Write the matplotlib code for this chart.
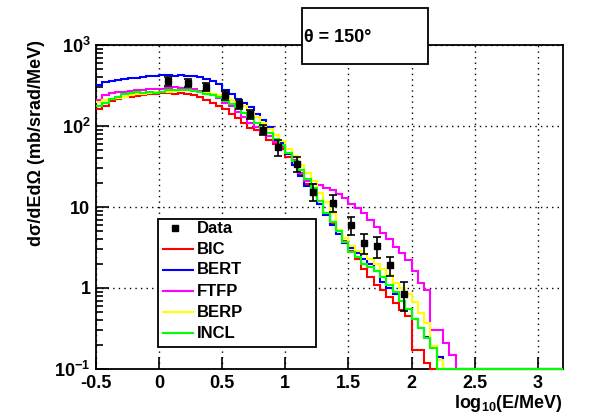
import numpy as np
import matplotlib
matplotlib.use('Agg')
import matplotlib.pyplot as plt
from matplotlib.patches import Rectangle
from matplotlib.lines import Line2D
from matplotlib.ticker import FixedLocator, FuncFormatter, LogLocator, NullFormatter

plt.rcParams['font.family'] = ['Liberation Sans', 'DejaVu Sans']
plt.rcParams['font.weight'] = 'bold'
plt.rcParams['mathtext.fontset'] = 'custom'
plt.rcParams['mathtext.rm'] = 'Liberation Sans:bold'
plt.rcParams['mathtext.bf'] = 'Liberation Sans:bold'
plt.rcParams['mathtext.it'] = 'Liberation Sans:bold'
plt.rcParams['axes.unicode_minus'] = False

# histogram binning in log10(E/MeV)
x_lo = -0.5
x_hi = 3.2
bin_w = 0.05

# model histograms, contents of consecutive bins starting at x_lo
bic = [160, 175, 205, 215, 225, 230, 235, 240, 245, 250,
       255, 255, 250, 255, 245, 240, 225, 210, 195, 175,
       160, 140, 125, 110, 95, 90, 80, 68, 60, 52,
       42, 33, 25, 19, 15, 11, 8.5, 6.3, 5.0, 3.8,
       2.9, 2.3, 1.7, 1.35, 1.1, 0.95, 0.78, 0.65, 0.53, 0.45,
       0.17, 0.17, 0.12]
bert = [320, 345, 360, 365, 380, 390, 395, 405, 410, 420,
        425, 430, 420, 430, 415, 420, 400, 380, 360, 330,
        280, 245, 215, 190, 170, 140, 120, 98, 78, 62,
        45, 33, 24, 18, 14, 11, 8.0, 6.0, 4.6, 3.6,
        3.1, 2.7, 2.3, 2.0, 1.6, 1.2, 1.0, 0.85, 0.70, 0.55,
        0.42, 0.32, 0.25, 0.19, 0.14]
ftfp = [210, 240, 255, 260, 265, 270, 275, 280, 285, 290,
        290, 295, 300, 295, 290, 285, 270, 255, 240, 220,
        195, 175, 150, 130, 110, 98, 85, 75, 64, 55,
        47, 38, 26, 21, 19.5, 18.5, 17, 16, 14.5, 13,
        11, 9.6, 8.5, 7.0, 5.7, 4.8, 4.0, 3.2, 2.7, 2.2,
        1.6, 1.15, 0.95, 0.30, 0.30, 0.21, 0.15]
berp = [200, 210, 215, 220, 230, 240, 245, 250, 255, 260,
        265, 265, 270, 275, 275, 270, 265, 260, 250, 240,
        225, 210, 195, 175, 150, 130, 110, 92, 78, 65,
        52, 43, 33, 26, 21, 15, 11.5, 8.5, 5.2, 4.2,
        3.3, 2.9, 2.6, 2.3, 2.0, 1.7, 1.45, 1.15, 1.0, 0.85,
        0.67, 0.49, 0.37, 0.19, 0.13]
incl = [175, 195, 215, 230, 245, 255, 260, 255, 260, 255,
        265, 275, 280, 280, 275, 270, 260, 250, 240, 225,
        205, 185, 165, 145, 125, 110, 95, 82, 70, 58,
        47, 37, 29, 22, 17, 12, 8.5, 6.5, 5.0, 3.7,
        2.8, 2.4, 2.0, 1.8, 1.6, 1.35, 1.1, 0.9, 0.70, 0.55,
        0.42, 0.32, 0.24, 0.18]

# measured points
data_x = [0.07, 0.23, 0.37, 0.52, 0.63, 0.72, 0.82, 0.94,
          1.09, 1.22, 1.38, 1.52, 1.62, 1.73, 1.83, 1.94]
data_y = [360, 340, 305, 240, 185, 140, 90, 55,
          34, 15.5, 11.3, 6.0, 3.6, 3.3, 1.9, 0.85]
data_err = [45, 40, 35, 28, 22, 17, 12, 12,
            7, 3.5, 2.7, 1.5, 1.0, 0.95, 0.5, 0.33]

models = [('BIC', bic, '#ff0000'),
          ('BERT', bert, '#0000ff'),
          ('FTFP', ftfp, '#ff00ff'),
          ('BERP', berp, '#ffff00'),
          ('INCL', incl, '#00ff00')]

W, H = 612, 419
fig = plt.figure(figsize=(W / 100, H / 100), dpi=100)
ax = fig.add_axes([96 / W, 1 - 369 / H, 467 / W, 324 / H])

y_min, y_max = 0.1, 1000
n_bins = int(round((x_hi - x_lo) / bin_w))
edges = x_lo + bin_w * np.arange(n_bins + 1)

for name, vals, col in models:
    h = np.zeros(n_bins)
    h[:len(vals)] = vals
    h = np.where(h > 0, h, y_min)
    ax.stairs(h, edges, baseline=None, color=col, lw=1.5, clip_on=False, zorder=3)

ax.errorbar(data_x, data_y, yerr=data_err, fmt='s', color='black', ms=5,
            elinewidth=1.2, capsize=3, capthick=1.2, zorder=5)

ax.set_xlim(x_lo, x_hi)
ax.set_yscale('log')
ax.set_ylim(y_min, y_max)

ax.xaxis.set_major_locator(FixedLocator([-0.5, 0, 0.5, 1, 1.5, 2, 2.5, 3]))
ax.xaxis.set_major_formatter(FuncFormatter(lambda v, p: '%g' % v))
ax.yaxis.set_major_locator(LogLocator(base=10))
ax.yaxis.set_minor_locator(LogLocator(base=10, subs=np.arange(2, 10)))
ax.yaxis.set_minor_formatter(NullFormatter())


def ylab(v, p):
    e = int(round(np.log10(v)))
    if e == 0:
        return '1'
    if e == 1:
        return '10'
    return r'$10^{%d}$' % e


ax.yaxis.set_major_formatter(FuncFormatter(ylab))
ax.tick_params(which='both', direction='in', top=False, right=False,
               labelsize=13, width=1.2)
ax.tick_params(which='major', length=9, pad=4)
ax.tick_params(which='minor', length=5)
for lab in ax.get_xticklabels() + ax.get_yticklabels():
    lab.set_fontweight('bold')
for s in ax.spines.values():
    s.set_linewidth(1.3)

ax.grid(True, which='major', color='black', linestyle=(0, (1, 3)), lw=1.0)

fig.text(563 / W, 1 - 408 / H, r'log$_{10}$(E/MeV)', ha='right', va='baseline',
         fontsize=13, fontweight='bold')
fig.text(37 / W, 1 - 40 / H, 'd\u03c3/dEd\u03a9 (mb/srad/MeV)', rotation=90,
         ha='center', va='top', fontsize=13, fontweight='bold')

# angle label box
fig.patches.append(Rectangle((302 / W, 1 - 64 / H), 126 / W, 56 / H,
                             transform=fig.transFigure, facecolor='white',
                             edgecolor='black', lw=1.3, zorder=10))
fig.text(304 / W, 1 - 37 / H, '\u03b8 = 150\u00b0', ha='left', va='center',
         fontsize=13, fontweight='bold', zorder=11)

# legend box
fig.patches.append(Rectangle((158 / W, 1 - 347 / H), 158 / W, 128 / H,
                             transform=fig.transFigure, facecolor='white',
                             edgecolor='black', lw=1.3, zorder=10))
entries = [('Data', None)] + [(m[0], m[2]) for m in models]
for k, (name, col) in enumerate(entries):
    yk = 1 - (228 + 21 * k) / H
    if col is None:
        fig.lines.append(Line2D([175 / W], [yk], marker='s', color='black', ms=5,
                                transform=fig.transFigure, zorder=11))
    else:
        fig.lines.append(Line2D([163 / W, 193 / W], [yk, yk], color=col, lw=1.5,
                                transform=fig.transFigure, zorder=11))
    fig.text(197 / W, yk, name, ha='left', va='center', fontsize=12,
             fontweight='bold', zorder=11)

fig.savefig('out.png', dpi=100)
